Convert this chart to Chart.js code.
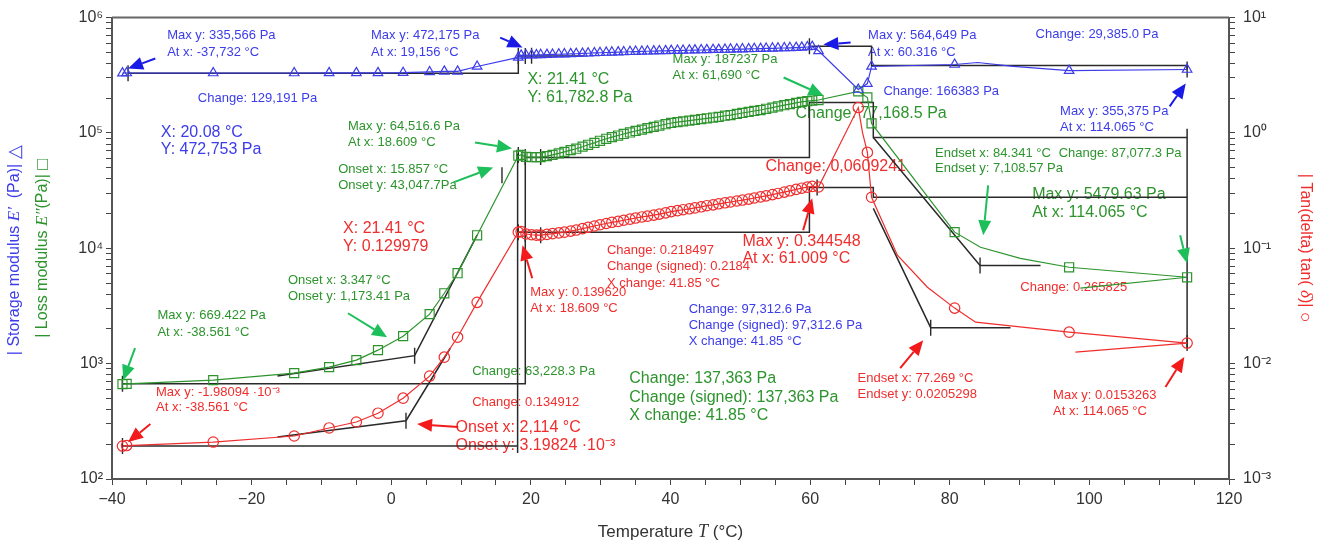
<!DOCTYPE html>
<html lang="en">
<head>
<meta charset="UTF-8">
<title>DMA temperature sweep</title>
<script src="https://cdn.jsdelivr.net/npm/chart.js@4.4.1/dist/chart.umd.min.js"></script>
<style>
  html, body { margin: 0; padding: 0; background: #fff; }
  #wrap { width: 1320px; height: 545px; position: relative; }
</style>
</head>
<body>
<div id="wrap"><canvas id="dma"></canvas></div>
<script>
// temperatures (°C) shared by E', E'' and tan(delta)
const tempC = [-38.5, -37.9, -25.5, -13.9, -8.9, -5.0, -1.9, 1.7, 5.5, 7.6, 9.5, 12.3,
  18.2, 18.6, 19.3, 20.1, 20.8, 21.4, 22.3, 23.1, 24.0, 24.8, 25.7, 26.5, 27.4, 28.2, 29.1, 29.9,
  30.8, 31.6, 32.5, 33.3, 34.2, 35.0, 35.9, 36.7, 37.6, 38.4, 39.3, 40.1, 41.0, 41.8, 42.7, 43.5,
  44.4, 45.2, 46.1, 46.9, 47.8, 48.6, 49.5, 50.3, 51.2, 52.0, 52.9, 53.7, 54.6, 55.4, 56.3, 57.1,
  58.0, 58.8, 59.6, 60.3,
  61.2, 66.9, 68.2, 68.8, 80.7, 97.1, 114.0];

// storage modulus E' (Pa)
const storageE = [330e3, 331e3, 331e3, 331e3, 332e3, 332e3, 332e3, 333e3, 338e3, 342e3, 342e3, 377e3,
  452e3, 470e3, 472e3, 473e3, 474e3, 476e3, 478e3, 479e3, 481e3, 483e3, 485e3, 486e3, 489e3, 491e3, 494e3, 496e3,
  498e3, 500e3, 502e3, 503e3, 506e3, 508e3, 509e3, 511e3, 512e3, 514e3, 515e3, 517e3, 518e3, 519e3, 521e3, 522e3,
  524e3, 525e3, 527e3, 528e3, 529e3, 531e3, 532e3, 534e3, 535e3, 537e3, 538e3, 540e3, 542e3, 543e3, 545e3, 547e3,
  549e3, 552e3, 556e3, 560e3,
  515e3, 238e3, 268e3, 377e3, 392e3, 347e3, 355e3];

// loss modulus E'' (Pa)
const lossE = [664, 668, 720, 828, 933, 1072, 1309, 1730, 2685, 4075, 6080, 12970,
  63.5e3, 64.5e3, 62.0e3, 61.6e3, 61.7e3, 61.8e3, 63.0e3, 64.5e3, 66.5e3, 68.5e3, 71.0e3, 73.0e3, 76.0e3, 79.0e3, 82.0e3, 85.5e3,
  89.0e3, 92.0e3, 95.0e3, 98.0e3, 101e3, 104e3, 107e3, 110e3, 113e3, 116e3, 119e3, 122e3, 124e3, 126e3, 128e3, 130e3,
  132e3, 134e3, 136e3, 138e3, 141e3, 143e3, 146e3, 149e3, 152e3, 155e3, 158e3, 162e3, 166e3, 170e3, 174e3, 178e3,
  182e3, 186e3, 189e3, 191e3,
  193e3, 229e3, 203e3, 121e3, 13.8e3, 6850, 5610];

// tan(delta)
const tanDelta = [1.93e-3, 1.95e-3, 2.09e-3, 2.36e-3, 2.77e-3, 3.12e-3, 3.72e-3, 5.02e-3, 7.80e-3, 0.01138, 0.01695, 0.034,
  0.138, 0.1396, 0.133, 0.131, 0.130, 0.130, 0.132, 0.134, 0.136, 0.138, 0.141, 0.144, 0.148, 0.152, 0.156, 0.160,
  0.164, 0.168, 0.171, 0.175, 0.179, 0.183, 0.187, 0.190, 0.194, 0.198, 0.203, 0.208, 0.212, 0.216, 0.220, 0.224,
  0.229, 0.234, 0.238, 0.243, 0.248, 0.252, 0.257, 0.262, 0.267, 0.273, 0.279, 0.285, 0.292, 0.299, 0.307, 0.315,
  0.324, 0.332, 0.339, 0.344,
  0.340, 1.66, 0.678, 0.277, 0.0303, 0.01875, 0.01507];

// bends of the drawn curves that carry no marker
const storageBendT = [84.0, 89.1];
const storageBendE = [408e3, 377e3];
const lossBendT = [84.4, 90.1];
const lossBendE = [10.2e3, 8180];
const tanBendT = [67.5, 72.5, 76.8, 83.7];
const tanBendD = [1.01, 0.087, 0.046, 0.0229];

// short stray baselines at the end of the run
const lossStray = [[98.7, 4510], [114.0, 5610]];
const tanStray = [[98.0, 0.0126], [114.0, 0.01507]];

// analysis construction lines (step, onset and endset), [T, value]
const storageSteps = [
  [[-37.7, 330e3], [18.2, 330e3], [18.2, 464e3], [27.5, 464e3]],
  [[59.9, 564e3], [68.8, 564e3], [68.8, 385e3], [114.0, 385e3], [114.0, 355e3]]
];
const lossSteps = [
  [[-38.5, 669], [19.2, 669], [19.2, 66.5e3]],
  [[19.2, 61.4e3], [59.9, 61.4e3], [59.9, 183.6e3], [69.05, 183.6e3], [69.05, 91.4e3], [114.0, 91.4e3]],
  [[114.0, 109e3], [114.0, 1360]],
  [[-16.3, 780], [3.35, 1173], [12.3, 13.0e3]],
  [[69.05, 91.4e3], [84.34, 7108], [93.0, 7108]]
];
const tanSteps = [
  [[-38.5, 1.93e-3], [18.1, 1.93e-3]],
  [[18.1, 1.68e-3], [18.1, 0.665]],
  [[18.1, 0.138], [59.9, 0.138], [59.9, 0.337], [69.05, 0.337], [69.05, 0.277], [114.0, 0.277]],
  [[-16.3, 2.31e-3], [2.11, 3.2e-3], [8.45, 0.0136]],
  [[69.05, 0.222], [77.27, 0.0205], [88.7, 0.0205]]
];

// cursor / onset tick marks
const storageTicks = [[-37.7, 330e3], [18.2, 464e3], [19.2, 464e3], [20.1, 468e3], [59.9, 564e3], [114.0, 355e3]];
const lossTicks = [[-38.5, 669], [18.2, 64.5e3], [19.2, 62e3], [21.4, 61.8e3], [3.35, 1173], [15.86, 43.0e3], [84.34, 7108]];
const tanTicks = [[-38.5, 1.93e-3], [18.2, 0.138], [19.2, 0.133], [21.4, 0.130], [61.0, 0.337], [2.11, 3.2e-3], [77.27, 0.0205], [114.0, 0.01507]];

// axis ticks
const xTickValues = [-40, -20, 0, 20, 40, 60, 80, 100, 120];
const xTickLabels = ['\u221240', '\u221220', '0', '20', '40', '60', '80', '100', '120'];
const leftTickValues = [1e2, 1e3, 1e4, 1e5, 1e6];
const leftTickLabels = ['10\u00b2', '10\u00b3', '10\u2074', '10\u2075', '10\u2076'];
const rightTickValues = [1e-3, 1e-2, 1e-1, 1e0, 1e1];
const rightTickLabels = ['10\u207b\u00b3', '10\u207b\u00b2', '10\u207b\u00b9', '10\u2070', '10\u00b9'];

// annotations: [T, log10 of left-axis position, text, big]
const blueNotes = [
  [-32.1, 5.844, 'Max y: 335,566 Pa'], [-32.1, 5.697, 'At x: -37,732 °C'],
  [-2.9, 5.844, 'Max y: 472,175 Pa'], [-2.9, 5.697, 'At x: 19,156 °C'],
  [-27.7, 5.299, 'Change: 129,191 Pa'],
  [-33.0, 5.004, 'X: 20.08 °C', 1], [-33.0, 4.857, 'Y: 472,753 Pa', 1],
  [68.3, 5.844, 'Max y: 564,649 Pa'], [68.3, 5.697, 'At x: 60.316 °C'],
  [92.3, 5.853, 'Change: 29,385.0 Pa'],
  [70.5, 5.359, 'Change: 166383 Pa'],
  [95.8, 5.186, 'Max y: 355,375 Pa'], [95.8, 5.048, 'At x: 114.065 °C'],
  [42.6, 3.472, 'Change: 97,312.6 Pa'], [42.6, 3.334, 'Change (signed): 97,312.6 Pa'], [42.6, 3.195, 'X change: 41.85 °C']
];
const greenNotes = [
  [19.5, 5.463, 'X: 21.41 °C', 1], [19.5, 5.307, 'Y: 61,782.8 Pa', 1],
  [40.3, 5.636, 'Max y: 187237 Pa'], [40.3, 5.498, 'At x: 61,690 °C'],
  [57.9, 5.169, 'Change: 77,168.5 Pa', 1],
  [-6.2, 5.056, 'Max y: 64,516.6 Pa'], [-6.2, 4.918, 'At x: 18.609 °C'],
  [-7.6, 4.684, 'Onset x: 15.857 °C'], [-7.6, 4.546, 'Onset y: 43,047.7Pa'],
  [77.9, 4.823, 'Endset x: 84.341 °C'], [95.6, 4.823, 'Change: 87,077.3 Pa'], [77.9, 4.693, 'Endset y: 7,108.57 Pa'],
  [91.8, 4.468, 'Max y: 5479.63 Pa', 1], [91.8, 4.312, 'At x: 114.065 °C', 1],
  [-14.8, 3.723, 'Onset x: 3.347 °C'], [-14.8, 3.585, 'Onset y: 1,173.41 Pa'],
  [-33.5, 3.420, 'Max y: 669.422 Pa'], [-33.5, 3.273, 'At x: -38.561 °C'],
  [11.6, 2.935, 'Change: 63,228.3 Pa'],
  [34.1, 2.874, 'Change: 137,363 Pa', 1], [34.1, 2.710, 'Change (signed): 137,363 Pa', 1], [34.1, 2.554, 'X change: 41.85 °C', 1]
];
const redNotes = [
  [-6.9, 4.173, 'X: 21.41 °C', 1], [-6.9, 4.017, 'Y: 0.129979', 1],
  [53.6, 4.710, 'Change: 0,0609241', 1],
  [30.9, 3.983, 'Change: 0.218497'], [30.9, 3.844, 'Change (signed): 0.2184'], [30.9, 3.697, 'X change: 41.85 °C'],
  [50.3, 4.061, 'Max y: 0.344548', 1], [50.3, 3.914, 'At x: 61.009 °C', 1],
  [19.9, 3.619, 'Max y: 0.139620'], [19.9, 3.481, 'At x: 18.609 °C'],
  [-33.7, 2.753, 'Max y: -1.98094 ·10\u207b\u00b3'], [-33.7, 2.624, 'At x: -38.561 °C'],
  [11.6, 2.667, 'Change: 0.134912'],
  [9.2, 2.442, 'Onset x: 2,114 °C', 1], [9.2, 2.286, 'Onset y: 3.19824 ·10\u207b\u00b3', 1],
  [66.8, 2.874, 'Endset x: 77.269 °C'], [66.8, 2.736, 'Endset y: 0.0205298'],
  [90.1, 3.663, 'Change: 0.265825'],
  [94.8, 2.727, 'Max y: 0.0153263'], [94.8, 2.589, 'At x: 114.065 °C']
];
// arrows: [tailT, tailLog, headT, headLog]
const blueArrows = [[-33.8, 5.645, -37.7, 5.558], [15.6, 5.827, 18.8, 5.740], [65.8, 5.784, 61.9, 5.766], [111.5, 5.230, 113.8, 5.429]];
const greenArrows = [[56.2, 5.481, 61.9, 5.325], [12.0, 4.918, 17.3, 4.866], [8.9, 4.572, 14.6, 4.701], [-6.2, 3.437, -0.6, 3.229],
  [-36.7, 3.134, -38.4, 2.857], [85.5, 4.546, 84.8, 4.113], [113.0, 4.113, 114.0, 3.870]];
const redArrows = [[-34.5, 2.476, -37.7, 2.320], [9.6, 2.450, 3.7, 2.476], [20.2, 3.740, 18.8, 4.026], [59.0, 4.156, 60.3, 4.433],
  [72.9, 2.961, 76.2, 3.203], [110.9, 2.797, 113.6, 3.057]];

const BLUE = 'rgb(60,60,235)';
const GREEN = 'rgb(45,148,45)';
const RED = 'rgb(240,45,45)';
const BLACK = '#2a2a2a';
const SANS = "'Liberation Sans', Arial, sans-serif";
const SERIF = "'Liberation Serif', 'Times New Roman', serif";

function seriesData(values, bendT, bendV) {
  const pts = tempC.map((t, i) => ({ x: t, y: values[i], marker: true }));
  bendT.forEach((t, i) => pts.push({ x: t, y: bendV[i], marker: false }));
  return pts.sort((a, b) => a.x - b.x);
}
const toXY = arr => arr.map(([x, y]) => ({ x, y }));

function seriesSet(data, axis, color, style, r) {
  return {
    data, yAxisID: axis, showLine: true, borderColor: color, borderWidth: 1.2, tension: 0,
    pointStyle: style, pointRadius: c => (c.raw && c.raw.marker ? r : 0),
    pointBorderColor: color, pointBackgroundColor: 'rgba(255,255,255,0)', pointBorderWidth: 1.2
  };
}
function lineSet(points, axis, color, width) {
  return { data: toXY(points), yAxisID: axis, showLine: true, borderColor: color, borderWidth: width, pointRadius: 0, tension: 0 };
}
function tickSet(points, axis) {
  return { data: toXY(points), yAxisID: axis, showLine: false, pointStyle: 'line', pointRotation: 90,
    pointRadius: 8, pointBorderColor: BLACK, pointBorderWidth: 1.4 };
}

const datasets = [
  seriesSet(seriesData(storageE, storageBendT, storageBendE), 'y', BLUE, 'triangle', 5.5),
  seriesSet(seriesData(lossE, lossBendT, lossBendE), 'y', GREEN, 'rect', 6.4),
  seriesSet(seriesData(tanDelta, tanBendT, tanBendD), 'y2', RED, 'circle', 5.2),
  lineSet(lossStray, 'y', GREEN, 1.2),
  lineSet(tanStray, 'y2', RED, 1.2),
  ...storageSteps.map(s => lineSet(s, 'y', BLACK, 1.5)),
  ...lossSteps.map(s => lineSet(s, 'y', BLACK, 1.5)),
  ...tanSteps.map(s => lineSet(s, 'y2', BLACK, 1.5)),
  tickSet(storageTicks, 'y'),
  tickSet(lossTicks, 'y'),
  tickSet(tanTicks, 'y2')
];

function decadeTicks(decades) {
  const out = [];
  decades.forEach((d, i) => {
    out.push({ value: d });
    if (i < decades.length - 1) for (let m = 2; m <= 9; m++) out.push({ value: m * d });
  });
  return out;
}

function drawRich(ctx, parts, cx, cy) {
  let w = 0;
  parts.forEach(p => { ctx.font = p.f; p.w = ctx.measureText(p.t).width; w += p.w; });
  let x = cx - w / 2;
  ctx.textAlign = 'left';
  ctx.textBaseline = 'middle';
  parts.forEach(p => { ctx.font = p.f; ctx.fillStyle = p.c; ctx.fillText(p.t, x, cy); x += p.w; });
}

function drawArrow(ctx, x1, y1, x2, y2, color) {
  const a = Math.atan2(y2 - y1, x2 - x1);
  const hl = 15, hw = 6.5;
  const bx = x2 - hl * Math.cos(a), by = y2 - hl * Math.sin(a);
  ctx.strokeStyle = color;
  ctx.fillStyle = color;
  ctx.lineWidth = 2;
  ctx.beginPath(); ctx.moveTo(x1, y1); ctx.lineTo(bx, by); ctx.stroke();
  ctx.beginPath();
  ctx.moveTo(x2, y2);
  ctx.lineTo(bx + hw * Math.sin(a), by - hw * Math.cos(a));
  ctx.lineTo(bx - hw * Math.sin(a), by + hw * Math.cos(a));
  ctx.closePath(); ctx.fill();
}

const notesPlugin = {
  id: 'notes',
  beforeDatasetsDraw(chart) {
    const { ctx, scales: { x, y } } = chart;
    ctx.save();
    [[blueNotes, BLUE], [greenNotes, GREEN], [redNotes, RED]].forEach(([notes, color]) => {
      ctx.fillStyle = color;
      ctx.textAlign = 'left';
      ctx.textBaseline = 'middle';
      notes.forEach(([t, d, text, big]) => {
        ctx.font = (big ? '16px ' : '13px ') + SANS;
        ctx.fillText(text, x.getPixelForValue(t), y.getPixelForValue(10 ** d));
      });
    });
    ctx.restore();
  },
  afterDraw(chart) {
    const { ctx, chartArea: a, scales: { x, y } } = chart;
    ctx.save();
    [[blueArrows, '#1a1ae6'], [greenArrows, '#1cbf5a'], [redArrows, '#f21a1a']].forEach(([arrows, color]) => {
      arrows.forEach(([t1, d1, t2, d2]) => drawArrow(ctx,
        x.getPixelForValue(t1), y.getPixelForValue(10 ** d1),
        x.getPixelForValue(t2), y.getPixelForValue(10 ** d2), color));
    });
    // top frame line
    ctx.strokeStyle = '#666';
    ctx.lineWidth = 2;
    ctx.beginPath(); ctx.moveTo(a.left, a.top); ctx.lineTo(a.right, a.top); ctx.stroke();

    const midY = (a.top + a.bottom) / 2;
    ctx.save();
    ctx.translate(15, midY + 2);
    ctx.rotate(-Math.PI / 2);
    drawRich(ctx, [
      { t: '| Storage modulus ', f: '16px ' + SANS, c: BLUE },
      { t: 'E\u2032', f: 'italic 17px ' + SERIF, c: BLUE },
      { t: '  (Pa)| ', f: '16px ' + SANS, c: BLUE },
      { t: '\u25b3', f: '18px ' + SANS, c: BLUE }
    ], 0, 0);
    ctx.restore();
    ctx.save();
    ctx.translate(43, midY);
    ctx.rotate(-Math.PI / 2);
    drawRich(ctx, [
      { t: '| Loss modulus ', f: '16px ' + SANS, c: GREEN },
      { t: 'E\u2033', f: 'italic 17px ' + SERIF, c: GREEN },
      { t: '(Pa)| ', f: '16px ' + SANS, c: GREEN },
      { t: '\u25a1', f: '18px ' + SANS, c: GREEN }
    ], 0, 0);
    ctx.restore();
    ctx.save();
    ctx.translate(1305, midY);
    ctx.rotate(Math.PI / 2);
    drawRich(ctx, [
      { t: '| Tan(delta) tan( ', f: '16px ' + SANS, c: RED },
      { t: '\u03b4', f: 'italic 17px ' + SERIF, c: RED },
      { t: ')| ', f: '16px ' + SANS, c: RED },
      { t: '\u25cb', f: '18px ' + SANS, c: RED }
    ], 0, 0);
    ctx.restore();
    drawRich(ctx, [
      { t: 'Temperature ', f: '17px ' + SANS, c: '#333' },
      { t: 'T', f: 'italic 18px ' + SERIF, c: '#333' },
      { t: ' (°C)', f: '17px ' + SANS, c: '#333' }
    ], (a.left + a.right) / 2, 532);
    ctx.restore();
  }
};

Chart.defaults.font.family = SANS;

new Chart(document.getElementById('dma'), {
  type: 'scatter',
  data: { datasets },
  options: {
    responsive: true,
    maintainAspectRatio: false,
    animation: false,
    events: [],
    layout: { padding: { top: 17, left: 0, right: 0, bottom: 0 } },
    plugins: { legend: { display: false }, tooltip: { enabled: false } },
    scales: {
      x: {
        type: 'linear', min: -40, max: 120,
        afterBuildTicks: s => {
          const t = [];
          for (let v = -40; v <= 120; v += 5) t.push({ value: v });
          s.ticks = t;
        },
        afterFit: s => { s.height = 66; },
        ticks: {
          autoSkip: false, maxRotation: 0, padding: 5, color: '#333', font: { size: 16 },
          callback: v => { const i = xTickValues.indexOf(v); return i >= 0 ? xTickLabels[i] : ''; }
        },
        grid: { drawOnChartArea: false, tickLength: 6, tickColor: '#444' },
        border: { color: '#555', width: 2 }
      },
      y: {
        type: 'logarithmic', position: 'left', min: 1e2, max: 1e6,
        afterBuildTicks: s => { s.ticks = decadeTicks(leftTickValues); },
        afterFit: s => { s.width = 112; },
        ticks: {
          autoSkip: false, padding: 3, color: '#333', font: { size: 16 },
          callback: v => { const i = leftTickValues.indexOf(v); return i >= 0 ? leftTickLabels[i] : ''; }
        },
        grid: { drawOnChartArea: false, tickLength: 6, tickColor: '#444' },
        border: { color: '#555', width: 2 }
      },
      y2: {
        type: 'logarithmic', position: 'right', min: 1e-3, max: 1e1,
        afterBuildTicks: s => { s.ticks = decadeTicks(rightTickValues); },
        afterFit: s => { s.width = 91; },
        ticks: {
          autoSkip: false, padding: 8, color: '#333', font: { size: 16 },
          callback: v => { const i = rightTickValues.indexOf(v); return i >= 0 ? rightTickLabels[i] : ''; }
        },
        grid: { drawOnChartArea: false, tickLength: 6, tickColor: '#444' },
        border: { color: '#555', width: 2 }
      }
    }
  },
  plugins: [notesPlugin]
});
</script>
</body>
</html>
